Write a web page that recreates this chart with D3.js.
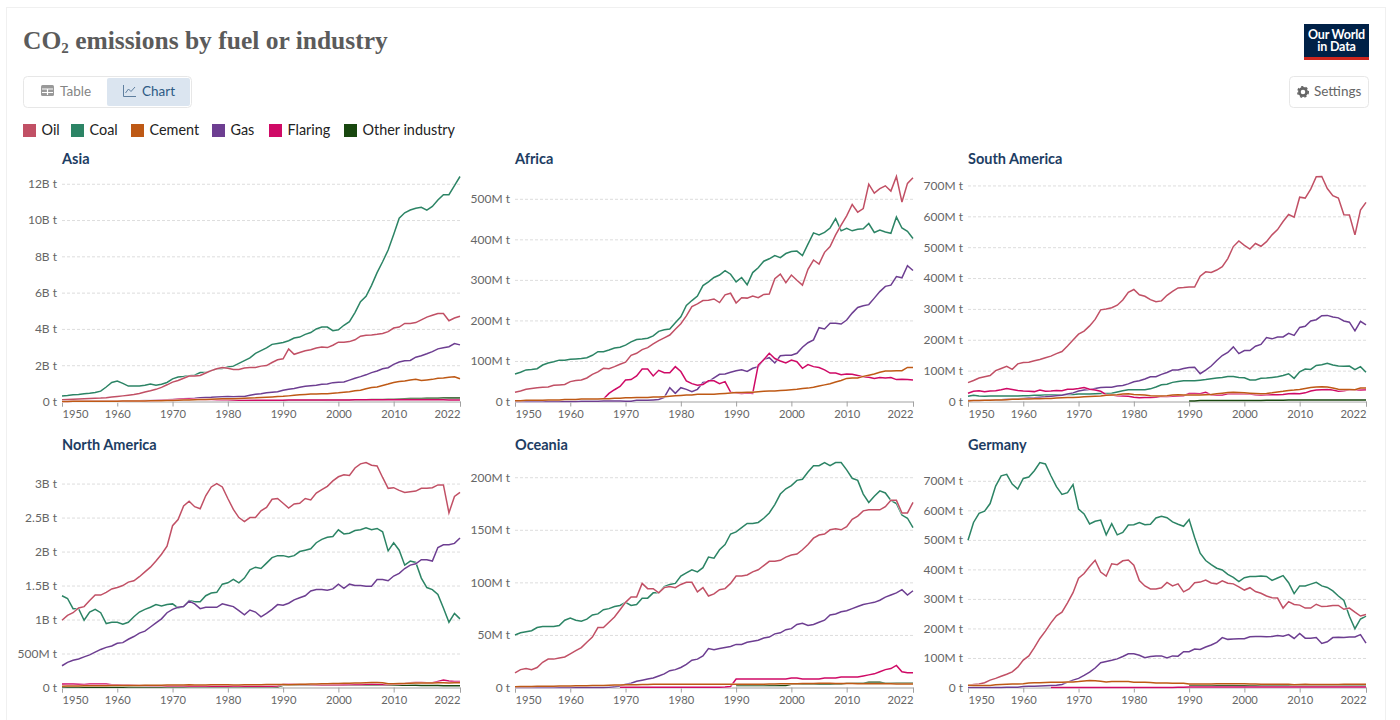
<!DOCTYPE html>
<html>
<head>
<meta charset="utf-8">
<title>CO2 emissions by fuel or industry</title>
<script src="https://cdn.jsdelivr.net/npm/d3@7"></script>
<style>
  body { margin: 0; background: #fff; }
  text { font-family: Lato, sans-serif; }
</style>
</head>
<body>
<div id="chart"></div>
<script>
// years run 1950..2022, each row below is one decade. values are million tonnes
const startYear = 1950
const endYear = 2022
const xTicks = [1950, 1960, 1970, 1980, 1990, 2000, 2010, 2022]
const noData = n => Array(n).fill(null)

const fuels = ['Oil', 'Coal', 'Cement', 'Gas', 'Flaring', 'Other industry']

// => Asia
const asiaTicks = [0, 2000, 4000, 6000, 8000, 10000, 12000]
const asiaOil = [
  100, 110, 125, 140, 150, 165, 180, 190, 210, 245,
  280, 310, 345, 385, 440, 520, 590, 670, 780, 920,
  1070, 1160, 1280, 1400, 1410, 1430, 1570, 1700, 1800, 1870,
  1830, 1770, 1770, 1850, 1870, 1880, 1950, 1980, 2150, 2300,
  2350, 2900, 2600, 2700, 2800, 2850, 2950, 3000, 2970, 3100,
  3270, 3270, 3300, 3400, 3600, 3650, 3670, 3700, 3750, 3850,
  4050, 4100, 4300, 4300, 4350, 4500, 4650, 4750, 4850, 4850,
  4450, 4600, 4700
]
const asiaCoal = [
  300, 330, 370, 380, 430, 460, 500, 570, 800, 1050,
  1130, 1000, 850, 850, 860, 900, 970, 900, 950, 1050,
  1250, 1350, 1380, 1420, 1450, 1600, 1600, 1700, 1800, 1820,
  1900, 1950, 2100, 2250, 2400, 2650, 2800, 2950, 3150, 3200,
  3250, 3350, 3500, 3550, 3700, 3800, 4000, 4100, 4100, 3900,
  3950, 4200, 4400, 4900, 5500, 5800, 6400, 7100, 7700, 8350,
  9200, 10100, 10400, 10550, 10650, 10700, 10550, 10750, 11100, 11400,
  11400, 11900, 12400
]
const asiaCement = [
  5, 6, 7, 8, 9, 10, 12, 13, 15, 18,
  20, 22, 24, 27, 30, 33, 37, 41, 45, 50,
  60, 70, 80, 85, 95, 105, 115, 125, 135, 145,
  150, 155, 165, 180, 190, 200, 220, 235, 250, 270,
  285, 310, 340, 370, 390, 410, 420, 425, 430, 460,
  480, 510, 540, 590, 620, 700, 770, 800, 880, 960,
  1050, 1100, 1130, 1180, 1220, 1160, 1190, 1220, 1280, 1300,
  1330, 1360, 1250
]
const asiaGas = [
  10, 12, 14, 16, 18, 20, 22, 24, 26, 28,
  30, 32, 36, 40, 45, 50, 60, 70, 80, 95,
  110, 130, 150, 170, 180, 200, 220, 230, 250, 260,
  270, 265, 270, 280, 350, 400, 430, 480, 510, 540,
  620, 680, 720, 780, 840, 870, 900, 950, 960, 1040,
  1060, 1080, 1180, 1280, 1370, 1470, 1590, 1680, 1800, 1860,
  2050, 2180, 2240, 2260, 2440, 2520, 2630, 2750, 2900, 2960,
  3020, 3190, 3120
]
const asiaFlaring = [
  5, 6, 7, 8, 9, 10, 12, 14, 15, 18,
  20, 22, 25, 28, 32, 36, 45, 55, 65, 80,
  100, 120, 140, 150, 140, 110, 110, 110, 100, 100,
  90, 80, 70, 70, 70, 70, 70, 70, 70, 70,
  75, 80, 85, 85, 85, 85, 85, 85, 85, 85,
  85, 85, 85, 90, 90, 90, 90, 90, 95, 95,
  95, 95, 95, 90, 90, 90, 90, 90, 90, 90,
  85, 85, 85
]
const asiaOther = noData(40).concat([
  60, 62, 64, 66, 68, 70, 72, 74, 76, 78,
  80, 84, 88, 92, 96, 100, 105, 110, 115, 120,
  130, 140, 150, 160, 165, 170, 175, 180, 185, 190,
  190, 195, 190
])

// => Africa
const africaTicks = [0, 100, 200, 300, 400, 500]
const africaOil = [
  23, 26, 30, 32, 34, 35, 36, 40, 41, 42,
  49, 52, 53, 58, 67, 73, 82, 81, 86, 92,
  97, 114, 119, 128, 133, 142, 150, 157, 164, 178,
  192, 211, 234, 241, 249, 250, 253, 244, 263, 267,
  243, 256, 255, 260, 256, 264, 265, 303, 314, 293,
  312, 299, 287, 326, 349, 339, 368, 382, 411, 435,
  458, 486, 467, 476, 536, 514, 525, 532, 519, 555,
  492, 538, 552
]
const africaCoal = [
  68, 72, 78, 79, 81, 90, 95, 98, 102, 102,
  104, 105, 106, 108, 114, 123, 123, 127, 132, 134,
  139, 147, 153, 154, 156, 162, 173, 177, 179, 194,
  209, 237, 249, 260, 286, 295, 306, 312, 323, 314,
  295, 306, 288, 318, 330, 346, 352, 360, 355, 365,
  370, 371, 360, 388, 416, 411, 417, 428, 451, 421,
  427, 421, 425, 426, 439, 417, 423, 418, 415, 455,
  428, 420, 402
]
const africaCement = [
  2, 2, 3, 3, 3, 3, 4, 4, 4, 5,
  5, 5, 6, 6, 6, 6, 7, 7, 8, 8,
  9, 9, 10, 10, 10, 11, 11, 12, 13, 14,
  15, 16, 16, 18, 18, 18, 18, 19, 20, 21,
  22, 22, 23, 23, 24, 25, 26, 26, 27, 28,
  29, 30, 32, 33, 35, 38, 41, 44, 48, 52,
  57, 58, 58, 62, 65, 68, 72, 75, 75, 76,
  76, 84, 84
]
const africaGas = [
  0, 0, 0, 0, 0, 0, 0, 0, 0, 0,
  0.3, 0.3, 0.4, 0.5, 0.6, 0.8, 1, 1, 1, 1,
  0.5, 0.7, 3, 3, 3, 4, 5, 10, 34, 20,
  34, 30, 24, 30, 47, 49, 58, 67, 68, 72,
  76, 78, 74, 82, 86, 104, 108, 95, 113, 114,
  114, 119, 134, 145, 152, 182, 179, 193, 193, 191,
  201, 218, 232, 236, 239, 255, 271, 284, 287, 308,
  305, 335, 323
]
const africaFlaring = noData(16).concat([
  6, 20, 29, 37,
  53, 54, 63, 80, 80, 63, 77, 71, 71, 86,
  74, 51, 44, 40, 42, 51, 51, 44, 49, 23,
  21, 20, 21, 20, 90, 103, 119, 106, 100, 95,
  102, 98, 82, 91, 86, 84, 78, 70, 70, 66,
  68, 67, 64, 61, 60, 57, 59, 58, 59, 54,
  55, 54, 53
])

// => South America
const southAmericaTicks = [0, 100, 200, 300, 400, 500, 600, 700]
const southAmericaOil = [
  61, 68, 76, 80, 84, 100, 107, 114, 104, 122,
  126, 127, 132, 136, 142, 147, 155, 162, 180, 199,
  218, 228, 245, 266, 297, 300, 304, 312, 329, 354,
  363, 346, 341, 330, 323, 326, 344, 357, 368, 369,
  371, 371, 406, 420, 418, 426, 437, 463, 502, 520,
  506, 494, 512, 503, 518, 540, 557, 583, 606, 597,
  662, 659, 688, 728, 729, 690, 667, 659, 605, 604,
  540, 620, 645
]
const southAmericaCoal = [
  17, 20, 18, 17, 18, 18, 18, 18, 18, 18,
  19, 19, 20, 20, 21, 21, 22, 22, 23, 23,
  24, 24, 24, 25, 26, 26, 27, 31, 35, 38,
  38, 38, 38, 41, 47, 54, 56, 62, 65, 67,
  67, 67, 69, 71, 74, 76, 78, 81, 81, 78,
  77, 70, 70, 75, 76, 78, 80, 84, 90, 75,
  96, 105, 104, 117, 119, 124, 118, 115, 114, 115,
  103, 113, 95
]
const southAmericaCement = [
  2, 3, 3, 4, 4, 5, 5, 6, 7, 7,
  8, 8, 9, 9, 10, 10, 11, 12, 13, 13,
  14, 15, 16, 17, 18, 20, 21, 22, 24, 25,
  23, 22, 21, 19, 18, 18, 19, 21, 22, 21,
  21, 21, 21, 22, 23, 25, 27, 29, 30, 29,
  28, 27, 26, 25, 26, 28, 31, 33, 36, 37,
  39, 42, 45, 47, 48, 47, 44, 40, 39, 39,
  38, 44, 44
]
const southAmericaGas = [
  3, 3, 3, 4, 5, 5, 6, 7, 8, 9,
  10, 11, 12, 14, 15, 17, 19, 20, 24, 28,
  34, 37, 39, 42, 45, 46, 46, 50, 52, 57,
  64, 67, 73, 80, 80, 88, 94, 102, 102, 107,
  110, 111, 90, 102, 115, 133, 149, 159, 177, 155,
  165, 165, 179, 185, 207, 203, 209, 209, 221, 214,
  240, 244, 261, 265, 278, 279, 274, 271, 261, 257,
  229, 260, 248
]
const southAmericaFlaring = [
  27, 33, 35, 32, 34, 35, 38, 42, 39, 36,
  34, 33, 32, 37, 33, 34, 36, 35, 40, 40,
  42, 45, 40, 37, 33, 22, 21, 19, 18, 17,
  14, 12, 13, 13, 14, 17, 16, 17, 18, 19,
  26, 26, 25, 30, 21, 21, 21, 25, 25, 25,
  25, 24, 22, 21, 22, 22, 22, 23, 25, 26,
  25, 28, 34, 37, 38, 39, 37, 33, 35, 38,
  38, 37, 38
]
const southAmericaOther = noData(40).concat([
  2, 2, 3, 3, 3, 3, 3, 3, 3, 3,
  3, 3, 3, 3, 4, 4, 4, 4, 5, 5,
  5, 5, 5, 5, 5, 5, 5, 5, 5, 5,
  5, 5, 5
])

// => North America
const northAmericaTicks = [0, 500, 1000, 1500, 2000, 2500, 3000]
const northAmericaOil = [
  990, 1060, 1100, 1170, 1190, 1280, 1360, 1360, 1400, 1450,
  1470, 1500, 1550, 1570, 1630, 1700, 1770, 1860, 1960, 2080,
  2380, 2470, 2670, 2740, 2660, 2630, 2820, 2950, 3000, 2950,
  2780, 2620, 2500, 2440, 2500, 2500, 2600, 2650, 2770, 2780,
  2710, 2640, 2700, 2710, 2780, 2760, 2860, 2910, 2960, 3040,
  3100, 3130, 3120, 3230, 3290, 3310, 3270, 3260, 3090, 2930,
  2940, 2900, 2870, 2880, 2890, 2930, 2930, 2940, 2980, 2980,
  2570, 2810, 2870
]
const northAmericaCoal = [
  1350, 1310, 1160, 1160, 990, 1110, 1150, 1100, 940, 960,
  960, 930, 960, 1040, 1110, 1150, 1180, 1220, 1200, 1220,
  1230, 1170, 1190, 1280, 1260, 1260, 1350, 1390, 1400, 1520,
  1540, 1590, 1540, 1610, 1730, 1770, 1750, 1830, 1910, 1940,
  1940, 1920, 1940, 2000, 2020, 2040, 2130, 2180, 2210, 2220,
  2320, 2260, 2270, 2310, 2320, 2350, 2320, 2340, 2290, 2010,
  2130, 2020, 1800, 1860, 1840, 1610, 1470, 1440, 1370, 1170,
  960, 1090, 1010
]
const northAmericaCement = [
  20, 21, 22, 23, 25, 26, 26, 25, 26, 28,
  28, 28, 29, 30, 31, 32, 33, 33, 34, 35,
  36, 37, 38, 40, 38, 35, 38, 40, 42, 42,
  40, 37, 37, 40, 42, 42, 42, 43, 43, 43,
  45, 42, 44, 46, 48, 50, 52, 54, 56, 58,
  60, 62, 64, 66, 68, 70, 72, 72, 70, 55,
  55, 58, 60, 62, 65, 66, 66, 68, 70, 70,
  66, 70, 70
]
const northAmericaGas = [
  320, 370, 400, 420, 450, 480, 520, 560, 590, 610,
  650, 660, 710, 750, 800, 830, 890, 950, 1010, 1100,
  1150, 1180, 1190, 1270, 1230, 1160, 1180, 1180, 1180, 1230,
  1210, 1190, 1130, 1070, 1140, 1110, 1040, 1090, 1150, 1220,
  1210, 1240, 1290, 1320, 1350, 1420, 1440, 1440, 1430, 1450,
  1520, 1460, 1520, 1500, 1500, 1490, 1490, 1590, 1590, 1570,
  1640, 1680, 1750, 1800, 1820, 1880, 1880, 1860, 2060, 2100,
  2100, 2120, 2200
]
const northAmericaFlaring = [
  50, 52, 52, 48, 45, 50, 52, 52, 50, 42,
  40, 38, 35, 32, 30, 28, 26, 25, 24, 22,
  22, 22, 22, 20, 20, 18, 18, 18, 18, 18,
  18, 18, 18, 18, 18, 18, 18, 18, 20, 22,
  48, 48, 48, 45, 45, 45, 42, 42, 42, 42,
  42, 42, 45, 45, 45, 48, 50, 48, 45, 45,
  48, 52, 60, 70, 75, 75, 70, 70, 90, 110,
  95, 90, 90
]
const northAmericaOther = [
  5, 5, 5, 4, 4, 4, 5, 5, 4, 5,
  5, 5, 6, 6, 6, 7, 7, 8, 8, 9,
  9, 9, 8, 8, 8, 8, 7, 7, 7, 7,
  7, 6, 6, 6, 6, 7, 7, 7, 7, 7,
  32, 32, 33, 33, 34, 35, 36, 36, 36, 36,
  36, 35, 35, 36, 36, 37, 37, 37, 36, 32,
  32, 33, 33, 34, 33, 31, 29, 28, 28, 27,
  24, 25, 25
]

// => Oceania
const oceaniaTicks = [0, 50, 100, 150, 200]
const oceaniaOil = [
  14, 17, 18, 17, 19, 24, 27, 27, 28, 29,
  32, 35, 38, 43, 48, 57, 57, 62, 67, 74,
  81, 86, 86, 99, 94, 94, 90, 95, 96, 95,
  98, 100, 100, 91, 95, 87, 89, 93, 94, 99,
  106, 106, 107, 110, 112, 116, 120, 120, 121, 124,
  126, 127, 131, 136, 142, 145, 146, 150, 151, 150,
  153, 160, 163, 168, 169, 169, 169, 172, 178, 178,
  166, 166, 176
]
const oceaniaCoal = [
  50, 52, 53, 54, 57, 58, 58, 58, 59, 64,
  66, 64, 63, 65, 69, 70, 74, 75, 77, 78,
  81, 78, 79, 85, 85, 90, 90, 96, 98, 99,
  106, 109, 112, 110, 114, 124, 123, 131, 136, 146,
  148, 152, 156, 156, 157, 161, 166, 174, 184, 189,
  192, 197, 198, 205, 211, 211, 214, 211, 214, 214,
  207, 199, 197, 184, 176, 182, 187, 185, 178, 175,
  164, 161, 152
]
const oceaniaCement = [
  0.8, 0.9, 1, 1, 1.1, 1.2, 1.2, 1.3, 1.4, 1.4,
  1.5, 1.6, 1.6, 1.7, 1.8, 2, 2, 2.2, 2.3, 2.4,
  2.5, 2.6, 2.7, 2.8, 2.8, 3, 3, 3, 3, 3,
  3, 3, 3, 3, 3, 3, 3, 3, 3.2, 3.2,
  3, 3, 3, 3, 3.2, 3.2, 3.3, 3.4, 3.5, 3.5,
  3.6, 3.6, 3.7, 3.8, 3.9, 4, 4, 4, 3.9, 3.8,
  3.8, 3.7, 3.6, 3.6, 3.6, 3.5, 3.5, 3.5, 3.5, 3.4,
  3.3, 3.4, 3.4
]
const oceaniaGas = [
  0, 0, 0, 0, 0, 0, 0, 0, 0, 0,
  0, 0, 0, 0, 0, 0, 0.1, 0.3, 0.6, 1.5,
  3, 4, 6, 7, 8, 9, 11, 13, 16, 17,
  19, 22, 26, 27, 30, 37, 36, 37, 38, 39,
  41, 41, 43, 44, 45, 47, 48, 51, 52, 55,
  56, 60, 61, 59, 60, 62, 64, 69, 70, 72,
  73, 75, 77, 79, 80, 81, 83, 86, 88, 90,
  93, 88, 92
]
const oceaniaFlaring = noData(19).concat([
  0.3,
  0.3, 0.3, 0.3, 0.3, 0.3, 0.3, 0.3, 0.3, 0.3, 0.3,
  0.3, 0.3, 0.3, 0.3, 0.3, 0.3, 0.3, 0.3, 0.5, 1,
  8, 8, 8, 8, 8, 8, 8, 8, 8, 8,
  9, 9, 8, 8, 8, 8, 9, 9, 9, 10,
  10, 10, 10, 11, 12, 13, 15, 17, 18, 21,
  15, 14, 14
])
const oceaniaOther = noData(40).concat([
  2, 2, 2, 2, 2, 2, 2, 2, 2, 2,
  3, 3, 3, 3, 3, 3, 3, 3, 3, 3,
  4, 4, 4, 4, 5, 5, 5, 4, 4, 4,
  4, 4, 4
])

// => Germany
const germanyTicks = [0, 100, 200, 300, 400, 500, 600, 700]
const germanyOil = [
  7, 10, 12, 16, 25, 31, 38, 45, 53, 69,
  93, 107, 135, 166, 191, 219, 243, 255, 287, 321,
  370, 386, 410, 431, 391, 377, 419, 416, 429, 432,
  414, 362, 344, 334, 334, 338, 356, 344, 351, 324,
  334, 355, 357, 364, 354, 351, 361, 353, 351, 341,
  330, 338, 325, 319, 310, 304, 303, 269, 291, 281,
  279, 269, 269, 282, 274, 275, 278, 278, 265, 269,
  255, 242, 247
]
const germanyCoal = [
  499, 559, 590, 597, 623, 682, 717, 722, 689, 672,
  708, 713, 734, 762, 757, 717, 680, 654, 660, 687,
  604, 588, 554, 563, 567, 517, 555, 517, 525, 550,
  551, 559, 551, 553, 574, 580, 575, 561, 553, 546,
  569, 508, 455, 430, 416, 404, 398, 383, 373, 359,
  372, 376, 376, 378, 376, 363, 371, 379, 355, 318,
  344, 344, 350, 356, 344, 339, 327, 310, 295, 241,
  199, 232, 242
]
const germanyCement = [
  8, 7, 7, 7, 7, 9, 10, 11, 12, 12,
  13, 15, 16, 16, 17, 18, 18, 18, 19, 19,
  20, 22, 24, 23, 21, 19, 20, 20, 20, 20,
  18, 18, 18, 17, 15, 15, 15, 14, 14, 14,
  12, 12, 12, 12, 12, 13, 13, 13, 13, 13,
  13, 12, 12, 11, 11, 11, 11, 11, 11, 9,
  10, 11, 10, 10, 10, 10, 10, 10, 11, 11,
  11, 11, 11
]
const germanyGas = [
  0, 0, 0, 0, 0, 0, 0, 1, 1, 1,
  3, 4, 4, 5, 6, 7, 8, 10, 18, 25,
  31, 41, 52, 66, 84, 88, 92, 97, 105, 114,
  114, 109, 101, 105, 107, 107, 100, 107, 106, 121,
  121, 130, 129, 137, 144, 153, 169, 163, 164, 165,
  165, 172, 173, 173, 172, 173, 176, 174, 179, 166,
  183, 167, 167, 169, 149, 155, 169, 170, 169, 171,
  171, 179, 150
]
const germanyFlaring = noData(15).concat([
  0.3, 0.3, 0.3, 0.3, 0.3,
  0.3, 0.3, 0.3, 0.3, 0.3, 0.3, 0.3, 0.3, 0.3, 0.3,
  0.3, 0.3, 0.3, 0.3, 0.3, 0.3, 0.3, 0.3, 0.5, 0.8,
  2, 2, 2, 2, 2, 2, 2, 2, 2, 2,
  2, 2, 2, 2, 2, 2, 2, 2, 2, 1.5,
  1.5, 1.5, 1.5, 1.5, 1.5, 1.5, 1.5, 1.5, 1.5, 1.5,
  1.5, 1.5, 1.5
])
const germanyOther = noData(40).concat([
  8, 8, 7, 7, 7, 7, 7, 7, 7, 6,
  6, 6, 6, 6, 6, 6, 6, 6, 6, 5,
  5, 5, 5, 5, 5, 5, 5, 5, 5, 5,
  5, 5, 5
])

const panelNames = ['Asia', 'Africa', 'South America', 'North America', 'Oceania', 'Germany']
const panelTicks = [asiaTicks, africaTicks, southAmericaTicks, northAmericaTicks, oceaniaTicks, germanyTicks]
const panelSeries = [
  { Oil: asiaOil, Coal: asiaCoal, Cement: asiaCement, Gas: asiaGas, Flaring: asiaFlaring, 'Other industry': asiaOther },
  { Oil: africaOil, Coal: africaCoal, Cement: africaCement, Gas: africaGas, Flaring: africaFlaring },
  { Oil: southAmericaOil, Coal: southAmericaCoal, Cement: southAmericaCement, Gas: southAmericaGas, Flaring: southAmericaFlaring, 'Other industry': southAmericaOther },
  { Oil: northAmericaOil, Coal: northAmericaCoal, Cement: northAmericaCement, Gas: northAmericaGas, Flaring: northAmericaFlaring, 'Other industry': northAmericaOther },
  { Oil: oceaniaOil, Coal: oceaniaCoal, Cement: oceaniaCement, Gas: oceaniaGas, Flaring: oceaniaFlaring, 'Other industry': oceaniaOther },
  { Oil: germanyOil, Coal: germanyCoal, Cement: germanyCement, Gas: germanyGas, Flaring: germanyFlaring, 'Other industry': germanyOther }
]

const colors = {
  Oil: '#c15065',
  Coal: '#2c8465',
  Cement: '#be5915',
  Gas: '#6d3e91',
  Flaring: '#cf0a66',
  'Other industry': '#18470f'
}
// 后画的压在上面
const drawOrder = ['Other industry', 'Coal', 'Oil', 'Gas', 'Flaring', 'Cement']

// 图形尺寸
const width = 1400
const height = 720
const colX = [62, 515, 968]
const rowBottom = [401.5, 687.5]
const plotW = 398
const plotH = 225

const svg = d3.select('#chart').append('svg')
  .attr('width', width)
  .attr('height', height)
  .style('display', 'block')

// => 外框
svg.append('rect')
  .attr('x', 6.5).attr('y', 7.5)
  .attr('width', 1379).attr('height', 760)
  .attr('fill', '#fff')
  .attr('stroke', '#f0f0f0')

// => 标题
let title = svg.append('text')
  .attr('x', 23).attr('y', 48.5)
  .attr('fill', '#5b5b5b')
  .style('font-family', '"Liberation Serif", serif')
  .style('font-weight', 700)
  .style('font-size', '25.5px')
title.append('tspan').text('CO')
title.append('tspan').text('2').attr('dy', 4).style('font-size', '15px')
title.append('tspan').text(' emissions by fuel or industry').attr('dy', -4)

// => logo
svg.append('rect').attr('x', 1304).attr('y', 24).attr('width', 65).attr('height', 36).attr('fill', '#002147')
svg.append('rect').attr('x', 1304).attr('y', 57).attr('width', 65).attr('height', 3).attr('fill', '#ce261e')
let logoText = svg.append('text')
  .attr('text-anchor', 'middle')
  .attr('fill', '#fff')
  .style('font-size', '12.5px')
  .style('font-weight', 700)
  .style('letter-spacing', '-0.2px')
logoText.append('tspan').attr('x', 1336.5).attr('y', 39).text('Our World')
logoText.append('tspan').attr('x', 1336.5).attr('y', 51).text('in Data')

// => Table / Chart 切换
svg.append('rect')
  .attr('x', 23.5).attr('y', 76.5).attr('width', 168).attr('height', 31).attr('rx', 4)
  .attr('fill', '#fff').attr('stroke', '#e7e7e7')
svg.append('rect')
  .attr('x', 107).attr('y', 78).attr('width', 83).attr('height', 28).attr('rx', 2)
  .attr('fill', '#dbe5f0')
let tableIcon = svg.append('g').attr('transform', 'translate(41,85)')
tableIcon.append('rect').attr('width', 13).attr('height', 11).attr('rx', 1.5).attr('fill', '#999')
tableIcon.append('path').attr('d', 'M1,4H12M1,7.5H12M6.5,4V10').attr('stroke', '#fff').attr('stroke-width', 1.2)
svg.append('text').attr('x', 60).attr('y', 96).attr('fill', '#858585').style('font-size', '13.5px').text('Table')
let chartIcon = svg.append('g').attr('transform', 'translate(123,85)').attr('fill', 'none').attr('stroke', '#5f7f9f')
chartIcon.append('path').attr('d', 'M0.5,0V11.5H13')
chartIcon.append('path').attr('d', 'M2.5,8L5.5,4L8,6.5L12,2')
svg.append('text').attr('x', 142).attr('y', 96).attr('fill', '#2d5a85').style('font-size', '13.5px').text('Chart')

// => Settings 按钮
svg.append('rect')
  .attr('x', 1289.5).attr('y', 76.5).attr('width', 79).attr('height', 31).attr('rx', 4)
  .attr('fill', '#fff').attr('stroke', '#e7e7e7')
let gear = svg.append('g').attr('transform', 'translate(1303,92)')
gear.append('circle').attr('r', 3.6).attr('fill', 'none').attr('stroke', '#666').attr('stroke-width', 2.6)
gear.append('circle').attr('r', 5.2).attr('fill', 'none').attr('stroke', '#666').attr('stroke-width', 1.6).attr('stroke-dasharray', '2.2 2.2')
svg.append('text').attr('x', 1314).attr('y', 96).attr('fill', '#666').style('font-size', '13.5px').text('Settings')

// => 图例
const legendX = [23, 71, 131, 212, 269, 344]
let legend = svg.selectAll('.legendG')
  .data(fuels)
  .enter().append('g')
  .attr('class', 'legendG')
  .attr('transform', (d, i) => `translate(${legendX[i]},124)`)
legend.append('rect')
  .attr('width', 13).attr('height', 13)
  .attr('fill', d => colors[d])
legend.append('text')
  .attr('x', 18.5).attr('y', 10.8)
  .attr('fill', '#222')
  .style('font-size', '14.4px')
  .text(d => d)

const formatTick = v => {
  if (v === 0) return '0 t'
  return v >= 1000 ? `${v / 1000}B t` : `${v}M t`
}

panelNames.forEach((name, i) => {
  let left = colX[i % 3]
  let bottom = rowBottom[Math.floor(i / 3)]
  let series = panelSeries[i]
  let keys = drawOrder.filter(k => series[k])

  let x = d3.scaleLinear().domain([startYear, endYear]).range([0, plotW])
  let yMax = d3.max(keys, k => d3.max(series[k]))
  let y = d3.scaleLinear().domain([0, yMax]).range([0, -plotH])

  let g = svg.append('g')
    .attr('class', 'panelG')
    .attr('transform', `translate(${left},${bottom})`)

  g.append('text')
    .attr('x', 0).attr('y', -plotH - 13)
    .attr('fill', '#1d3d63')
    .style('font-size', '14.5px')
    .style('font-weight', 700)
    .text(name)

  // y轴和网格线
  let yAxis = g.append('g')
    .call(d3.axisLeft(y).tickValues(panelTicks[i]).tickSize(0).tickPadding(5).tickFormat(formatTick))
  yAxis.select('.domain').remove()
  yAxis.selectAll('text')
    .attr('fill', '#666')
    .style('font-family', 'Lato, sans-serif')
    .style('font-size', '12px')
  yAxis.selectAll('.tick line')
    .filter(d => d !== 0)
    .attr('x2', plotW)
    .attr('stroke', '#ddd')
    .attr('stroke-dasharray', '3 2')

  // x轴
  let xAxis = g.append('g')
    .call(d3.axisBottom(x).tickValues(xTicks).tickSize(5).tickPadding(4).tickFormat(d3.format('d')))
  xAxis.select('.domain').attr('stroke', '#a1a1a1')
  xAxis.selectAll('.tick line').attr('stroke', '#a1a1a1')
  xAxis.selectAll('text')
    .attr('fill', '#666')
    .style('font-family', 'Lato, sans-serif')
    .style('font-size', '11.2px')
    .attr('text-anchor', d => d === startYear ? 'start' : d === endYear ? 'end' : 'middle')

  // 折线,先画白边
  let line = d3.line()
    .defined(d => d !== null)
    .x((d, j) => x(startYear + j))
    .y(d => y(d))

  keys.forEach(k => {
    g.append('path')
      .attr('d', line(series[k]))
      .attr('fill', 'none')
      .attr('stroke', '#fff')
      .attr('stroke-width', 2.5)
      .attr('stroke-opacity', 0.7)
    g.append('path')
      .attr('d', line(series[k]))
      .attr('fill', 'none')
      .attr('stroke', colors[k])
      .attr('stroke-width', 1.5)
  })
})
</script>
</body>
</html>
